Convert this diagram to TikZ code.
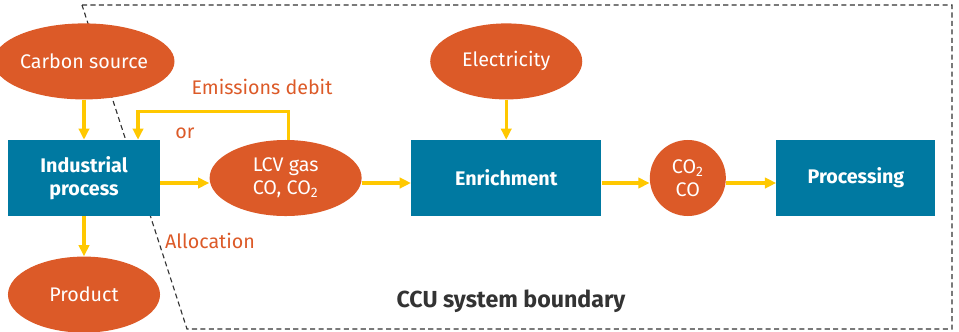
\documentclass[tikz,border=0pt]{standalone}
\usepackage{fontspec}
\setmainfont{Fira Sans}
\usetikzlibrary{positioning, arrows.meta, shapes.geometric}
\definecolor{ccuorange}{HTML}{DC5A28}
\definecolor{ccublue}{HTML}{0079A1}
\definecolor{ccuyellow}{HTML}{FFC800}
\definecolor{ccugray}{HTML}{333333}

\begin{document}
\begin{tikzpicture}[
  x=0.025cm, y=-0.025cm,
  every node/.style={font=\fontsize{14}{16.5}\selectfont},
  source/.style={
    ellipse, fill=ccuorange, text=white, inner sep=0pt,
    minimum width=3.8cm, minimum height=1.9cm, align=center
  },
  gas/.style={
    circle, fill=ccuorange, text=white, inner sep=0pt,
    minimum size=1.9cm, align=center
  },
  process/.style={
    fill=ccublue, text=white, inner sep=0pt,
    minimum width=3.8cm, minimum height=1.9cm, align=center,
    font=\fontsize{14}{16.5}\selectfont\bfseries
  },
  note/.style={text=ccuorange, inner sep=0pt},
  flow/.style={-{Triangle[length=0.28cm, width=0.26cm]}, ccuyellow, line width=2.2pt},
  boundary/.style={ccugray, dashed, line width=0.8pt, dash pattern=on 3.6pt off 2.4pt}
]
  \useasboundingbox (0,0) rectangle (959,331);

  % system boundary
  \draw[boundary] (82,5) -- (952,5) -- (952,329) -- (187,329) -- cycle;

  \node[process] (indus) at (84,178) {Industrial\\process};
  \node[source, above=1cm of indus] (carbon) {Carbon source};
  \node[source, below=1cm of indus] (product) {Product};
  \node[source, right=1.225cm of indus] (lcv) {LCV gas\\CO, CO\textsubscript{2}};
  \node[process, minimum width=4.75cm, right=1.225cm of lcv] (enrich) {Enrichment};
  \node[source, above=1cm of enrich] (elec) {Electricity};
  \node[gas, right=1.2cm of enrich] (co) {CO\textsubscript{2}\\CO};
  \node[process, minimum width=3.975cm, right=1.25cm of co] (proc) {Processing};

  \node[note] (debit) at (262,87) {Emissions debit};
  \node[note] (or) at (185,133) {or};
  \node[note] (alloc) at (210,241) {Allocation};
  \node[ccugray, font=\fontsize{16.5}{19}\selectfont\bfseries] (sysb) at (511,301) {CCU system boundary};

  \coordinate (ret) at ([xshift=1.35cm]indus.north);

  \draw[flow] (carbon) -- (indus);
  \draw[flow] (indus) -- (product);
  \draw[flow] (elec) -- (enrich);
  \draw[flow] ([yshift=-0.125cm]indus.east) -- ([yshift=-0.125cm]lcv.west);
  \draw[flow] ([yshift=-0.125cm]lcv.east) -- ([yshift=-0.125cm]enrich.west);
  \draw[flow] ([yshift=-0.125cm]enrich.east) -- ([yshift=-0.125cm]co.west);
  \draw[flow] ([yshift=-0.125cm]co.east) -- ([yshift=-0.125cm]proc.west);
  \draw[flow] ([xshift=0.075cm]lcv.north) -- ++(0,-28) -| (ret);
\end{tikzpicture}
\end{document}
